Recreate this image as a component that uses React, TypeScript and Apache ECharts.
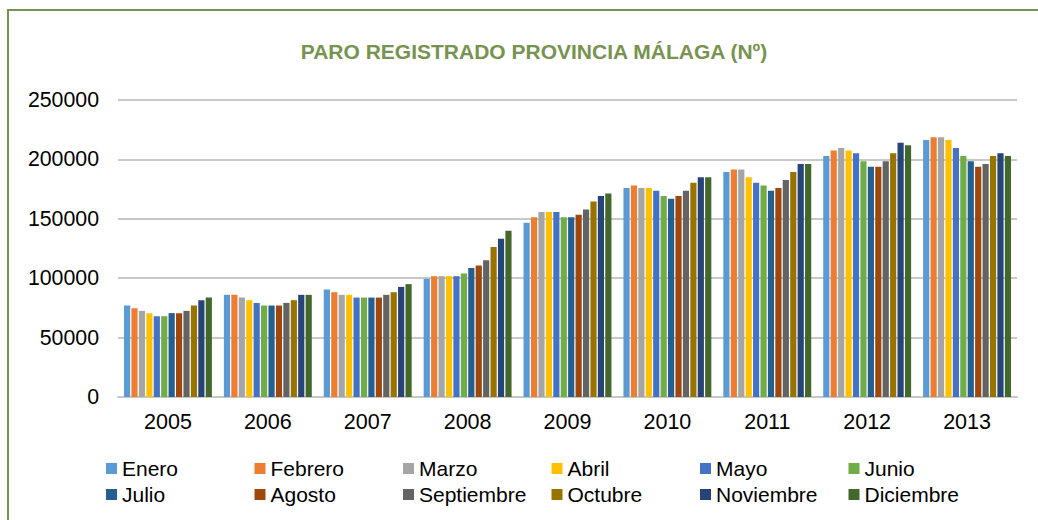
import React, { useEffect, useRef } from "react";
import * as echarts from "echarts";

const years = ["2005", "2006", "2007", "2008", "2009", "2010", "2011", "2012", "2013"];
const months = ["Enero", "Febrero", "Marzo", "Abril", "Mayo", "Junio", "Julio", "Agosto", "Septiembre", "Octubre", "Noviembre", "Diciembre"];
const colors = ["#5B9BD5", "#ED7D31", "#A5A5A5", "#FFC000", "#4472C4", "#70AD47", "#255E91", "#9E480E", "#636363", "#997300", "#264478", "#43682B"];

const enero = [77000, 86000, 90500, 99500, 146700, 175900, 189400, 202900, 216400];
const febrero = [74800, 86000, 88200, 101700, 151200, 178100, 191600, 207400, 218600];
const marzo = [72500, 83700, 86000, 101700, 155700, 175900, 191600, 209600, 218600];
const abril = [70600, 81500, 86000, 101700, 155700, 175900, 184900, 207400, 216400];
const mayo = [68000, 79200, 83700, 101700, 155700, 173700, 180400, 205100, 209600];
const junio = [68000, 77000, 83700, 104000, 151200, 169200, 178100, 198400, 202900];
const julio = [70600, 77000, 83700, 108500, 151200, 166900, 173700, 193900, 198400];
const agosto = [70600, 77000, 83700, 110700, 153400, 169200, 175900, 193900, 193900];
const septiembre = [72500, 79200, 86000, 115200, 157900, 173700, 182700, 198400, 196100];
const octubre = [77000, 81500, 88200, 126200, 164600, 180400, 189400, 205100, 202900];
const noviembre = [81500, 86000, 92700, 133200, 169200, 184900, 196100, 214100, 205100];
const diciembre = [83700, 86000, 95000, 139900, 171400, 184900, 196100, 211900, 202900];

const seriesValues = [enero, febrero, marzo, abril, mayo, junio, julio, agosto, septiembre, octubre, noviembre, diciembre];
const yTicks = { min: 0, max: 250000, interval: 50000 };
const titleText = "PARO REGISTRADO PROVINCIA MÁLAGA (Nº)";

const FONT = "'Liberation Sans', Arial, sans-serif";

export default function App() {
  const ref = useRef<HTMLDivElement>(null);
  useEffect(() => {
    if (!ref.current) return;
    const chart = echarts.init(ref.current, null, { renderer: "svg" });
    const legends = months.map((m, i) => ({
      show: true,
      data: [m],
      left: 106 + (i % 6) * 148.5,
      top: i < 6 ? 458 : 484,
      itemWidth: 11,
      itemHeight: 11,
      itemGap: 0,
      padding: 0,
      icon: "rect",
      textStyle: { fontFamily: FONT, fontSize: 21, color: "#000" },
    }));
    chart.setOption({
      animation: false,
      backgroundColor: "#fff",
      color: colors,
      textStyle: { fontFamily: FONT },
      title: {
        text: titleText,
        left: 529,
        top: 36,
        textAlign: "center",
        textStyle: { fontFamily: FONT, fontSize: 21, fontWeight: "bold", color: "#77934F" },
      },
      legend: legends,
      grid: { left: 118, right: 21, top: 100, bottom: 123, containLabel: false },
      xAxis: {
        type: "category",
        data: years,
        axisLine: { show: true, lineStyle: { color: "#C8C8C8", width: 2 } },
        axisTick: { show: false },
        axisLabel: { fontFamily: FONT, fontSize: 21.5, color: "#000", margin: 14 },
      },
      yAxis: {
        type: "value",
        min: yTicks.min,
        max: yTicks.max,
        interval: yTicks.interval,
        axisLine: { show: false },
        axisTick: { show: false },
        splitLine: { lineStyle: { color: "#C8C8C8", width: 2 } },
        axisLabel: {
          fontFamily: FONT,
          fontSize: 21.3,
          color: "#000",
          margin: 19,
          formatter: (v: number) => String(v),
        },
      },
      graphic: [
        {
          type: "rect",
          shape: { x: 8, y: 10, width: 1200, height: 700 },
          style: { fill: "none", stroke: "#77934F", lineWidth: 2 },
          silent: true,
          z: 100,
        },
      ],
      series: months.map((m, i) => ({
        name: m,
        type: "bar",
        data: seriesValues[i],
        barGap: "20%",
        barCategoryGap: "12%",
        itemStyle: { color: colors[i] },
      })),
    });
    return () => chart.dispose();
  }, []);
  return <div ref={ref} style={{ position: "fixed", left: 0, top: 0, width: 1038, height: 520 }} />;
}
